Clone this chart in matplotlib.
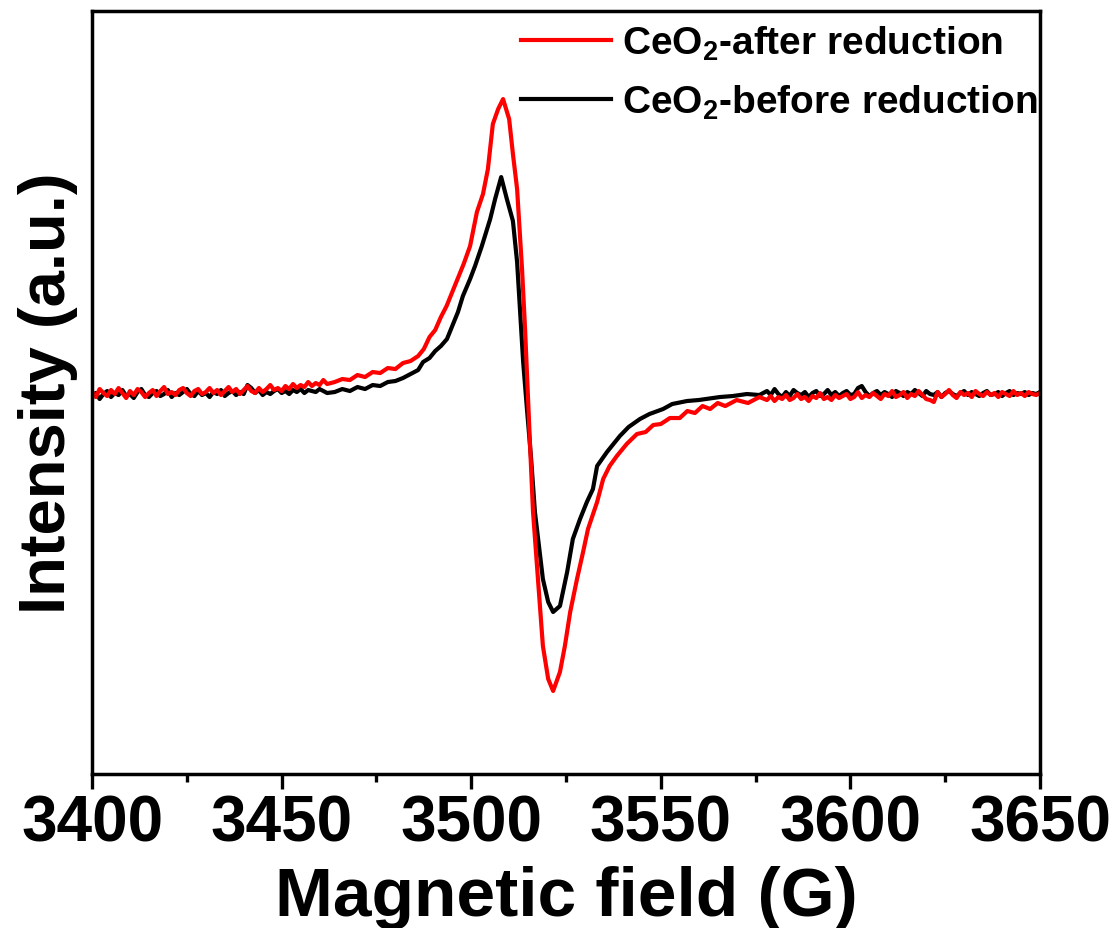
import numpy as np
import matplotlib
matplotlib.use('Agg')
import matplotlib.pyplot as plt
from matplotlib.ticker import MultipleLocator

plt.rcParams['font.family'] = ['Liberation Sans', 'DejaVu Sans']
plt.rcParams['font.weight'] = 'bold'
plt.rcParams['mathtext.default'] = 'regular'

# flat baseline parts, 1 G steps
field_left = np.arange(3400, 3463)
red_left = [2, -3, 5, 1, -2, 4, 0, 6, 1, -4,
            3, -1, 5, 2, -3, 1, 4, -2, 3, 7,
            0, 2, -1, 4, 6, 1, -2, 3, 5, 0,
            2, 6, 1, 4, -1, 3, 7, 2, 5, 0,
            4, 8, 3, 1, 6, 2, 5, 9, 4, 6,
            3, 8, 5, 10, 6, 9, 7, 12, 8, 11,
            9, 14, 10]
black_left = [-2, 1, -5, 0, 3, -3, 1, -1, 4, -2,
              0, -4, 2, 5, -1, -3, 1, 3, -2, 0,
              4, -3, 1, -1, 2, 5, 0, -2, 3, -1,
              1, -3, 2, 0, 4, -2, 1, 3, -1, 2,
              0, 9, 6, 1, 4, -1, 2, 0, 3, 5,
              1, 3, 0, 4, 2, 5, 1, 4, 3, 2,
              5, 3, 1]

field_right = np.arange(3578, 3651)
red_right = [-6, -2, -7, -3, -5, -1, -6, -4, 0, -5,
             -3, -7, -2, -4, 1, -5, -3, -6, -1, -4,
             -2, 0, -5, -3, 2, -4, -1, -3, 1, -2,
             -5, 0, -2, 3, -3, -1, 2, -4, 0, -2,
             3, -1, -5, -6, -8, 2, -3, 0, 4, -1,
             -4, 2, -1, 1, -3, 3, 0, -2, 2, -1,
             1, -3, 2, 0, -2, 3, -1, 1, -2, 2,
             0, -1, 1]
black_right = [3, -1, 5, 0, -3, 2, -2, 4, 1, -1,
               2, -3, 1, 3, -2, 0, 4, -1, 2, -2,
               1, 3, -1, 0, 6, 8, 2, -2, 1, 3,
               -1, 2, 0, -3, 3, 1, -2, 2, 0, 4,
               1, -2, 3, 0, -1, 2, -3, 1, 3, 0,
               -2, 1, 3, -1, 2, 0, -2, 1, 3, -1,
               0, 2, -2, 1, 3, -1, 1, 0, 2, -1,
               1, 0, 2]

# signal region
field_red_mid = [3464, 3466, 3468, 3470, 3472, 3474, 3476, 3478, 3480, 3482,
                 3484, 3486, 3487.5, 3489, 3490.5, 3492, 3493.5, 3495, 3496.5, 3498,
                 3499.7, 3501.5, 3503.1, 3504.4, 3505.7, 3507.1, 3508.4, 3510.0, 3511.0, 3512.1,
                 3513.4, 3514.2, 3514.7, 3515.5, 3516.3, 3517.6, 3518.9, 3520.3, 3521.6, 3523.4,
                 3524.7, 3526.1, 3527.9, 3529.5, 3530.8, 3533.2, 3534.8, 3536.5, 3538.4, 3541,
                 3543.7, 3546, 3548, 3550, 3552.4, 3555, 3557, 3559, 3561, 3563,
                 3565, 3567, 3570, 3573, 3576]
red_mid = [12, 15, 14, 19, 17, 22, 21, 26, 25, 31,
           33, 38, 45, 57, 64, 77, 88, 102, 116, 130,
           148, 182, 200, 225, 270, 285, 295, 275, 240, 205,
           125, 65, 20, -50, -118, -185, -252, -285, -297, -278,
           -252, -218, -185, -158, -135, -108, -85, -72, -62, -50,
           -40, -38, -31, -30, -24, -24, -17, -19, -12, -15,
           -9, -12, -6, -9, -3]

field_black_mid = [3464, 3466, 3468, 3470, 3472, 3474, 3476, 3478, 3480, 3482,
                   3484, 3486, 3487.3, 3489, 3490.5, 3492, 3493.6, 3495, 3496.5, 3497.8,
                   3499.7, 3501, 3502.8, 3505.0, 3506.3, 3507.9, 3509.4, 3511.0, 3512.1, 3512.9,
                   3513.7, 3514.7, 3515.8, 3516.8, 3518.9, 3520.3, 3521.6, 3523.4, 3525.3, 3526.8,
                   3528.7, 3530.5, 3532.1, 3533.2, 3535.8, 3537.5, 3539.2, 3541.5, 3544.5, 3547,
                   3550.6, 3553, 3556.9, 3560, 3565.6, 3569, 3572.7, 3576]
black_mid = [2, 5, 3, 7, 5, 9, 8, 12, 13, 16,
             20, 24, 32, 36, 43, 48, 55, 68, 82, 98,
             115, 128, 148, 175, 195, 217, 195, 173, 132, 82,
             32, -15, -65, -118, -185, -208, -218, -212, -178, -145,
             -125, -108, -95, -72, -58, -50, -42, -33, -25, -20,
             -15, -10, -7, -6, -3, -2, 0, -1]

field_red = np.concatenate([field_left, field_red_mid, field_right])
int_red = np.concatenate([red_left, red_mid, red_right])
field_black = np.concatenate([field_left, field_black_mid, field_right])
int_black = np.concatenate([black_left, black_mid, black_right])

fig = plt.figure(figsize=(11.13, 9.29), dpi=100)
ax = fig.add_axes([0.0827, 0.1658, 0.8517, 0.8212])

l_black, = ax.plot(field_black, int_black, color='black', lw=3.0,
                   label='CeO$_2$-before reduction')
l_red, = ax.plot(field_red, int_red, color='#ff0000', lw=3.0,
                 label='CeO$_2$-after reduction')

ax.set_xlim(3400, 3650)
ax.set_ylim(-380, 383)
ax.xaxis.set_major_locator(MultipleLocator(50))
ax.xaxis.set_minor_locator(MultipleLocator(25))
ax.set_yticks([])
ax.tick_params(axis='x', which='major', direction='out', length=11, width=2.4,
               labelsize=46, pad=3)
ax.tick_params(axis='x', which='minor', direction='out', length=5.5, width=2.4)
for s in ax.spines.values():
    s.set_linewidth(2.5)

ax.set_xlabel('Magnetic field (G)', fontsize=50, fontweight='bold', labelpad=8)
ax.set_ylabel('Intensity (a.u.)', fontsize=47, fontweight='bold', labelpad=10)

ax.legend(handles=[l_red, l_black], loc='upper right', bbox_to_anchor=(0.998, 0.984),
          frameon=False, fontsize=28, handlelength=2.3, handletextpad=0.3,
          labelspacing=0.55, borderaxespad=0, borderpad=0)

fig.savefig('out.png', dpi=100)
